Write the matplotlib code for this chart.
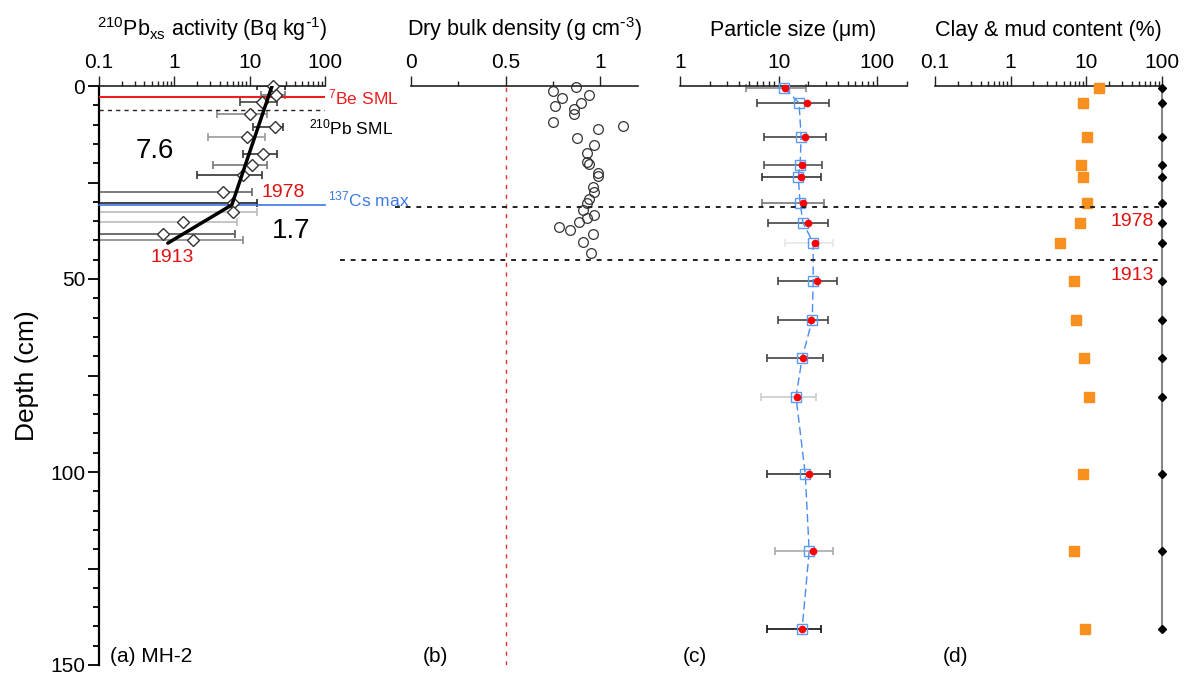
import matplotlib
matplotlib.use('Agg')
import matplotlib.pyplot as plt
import matplotlib.ticker as mticker
from matplotlib.lines import Line2D
from matplotlib.transforms import blended_transform_factory

plt.rcParams['font.family'] = ['Liberation Sans', 'DejaVu Sans']
plt.rcParams['mathtext.default'] = 'regular'

# ---------------- data ----------------
# (a) 210Pb excess activity (Bq/kg)
pb_depth = [0.0, 2.3, 4.1, 7.3, 10.5, 13.3, 17.6, 20.5, 23.0, 27.4, 30.4, 32.6, 35.2, 38.3, 40.0]
pb_activity = [20.5, 22.4, 14.6, 10.1, 21.7, 9.2, 15.1, 10.8, 8.2, 4.4, 6.0, 6.0, 1.3, 0.71, 1.77]
pb_err_low = [12.5, 14, 7.5, 3.7, 11.1, 2.8, 8.2, 3.3, 2.0, 0.05, 0.05, 0.05, 0.05, 0.05, 0.05]
pb_err_high = [29.5, 29.5, 23.1, 17.0, 27.8, 16.0, 23.1, 17.0, 14.6, 10.8, 12.5, 12.5, 6.8, 6.4, 8.2]
pb_err_color = ['#222222', '#777777', '#444444', '#888888', '#333333', '#999999', '#333333',
                '#777777', '#333333', '#666666', '#222222', '#bbbbbb', '#bbbbbb', '#555555', '#888888']
fit_depth = [0.0, 30.8, 40.7]
fit_activity = [19.8, 5.8, 0.82]
be_sml_depth = 2.8
pb_sml_depth = 6.2
cs_max_depth = 30.8
rate_labels = ['7.6', '1.7']
year_1978_depth = 31.3
year_1913_depth = 45.1

# (b) dry bulk density (g/cm3)
dbd_depth = [0.3, 1.3, 2.3, 3.1, 4.3, 5.3, 6.0, 7.3, 9.4, 10.3, 11.2, 13.5, 15.3, 17.4, 19.7,
             20.3, 22.5, 23.3, 26.1, 27.4, 29.3, 30.4, 32.0, 33.4, 34.3, 35.2, 36.5, 37.3, 38.3,
             40.4, 43.3]
dbd_value = [0.87, 0.75, 0.94, 0.80, 0.90, 0.76, 0.86, 0.86, 0.75, 1.12, 0.99, 0.88, 0.97, 0.93,
             0.93, 0.94, 0.99, 0.99, 0.96, 0.97, 0.94, 0.93, 0.91, 0.97, 0.93, 0.89, 0.78, 0.84,
             0.96, 0.91, 0.95]
dbd_reference = 0.5

# (c) particle size (um) and (d) clay & mud content (%)
grain_depth = [0.5, 4.4, 13.2, 20.5, 23.5, 30.4, 35.5, 40.6, 50.6, 60.6, 70.4, 80.6, 100.5, 120.5, 140.6]
size_mean = [11.4, 16.1, 16.9, 16.5, 15.8, 16.5, 17.7, 22.4, 22.4, 21.9, 17.3, 15.0, 18.6, 20.4, 17.3]
size_median = [11.6, 19.5, 18.5, 17.3, 16.9, 17.7, 19.9, 23.5, 24.6, 21.4, 17.7, 15.4, 20.4, 22.4, 17.3]
size_err_low = [4.7, 6.0, 7.1, 7.1, 6.8, 6.8, 7.8, 11.6, 9.9, 9.9, 7.6, 6.6, 7.6, 9.2, 7.6]
size_err_high = [19, 32.5, 30, 27.7, 27, 29, 31.8, 35.8, 39, 32, 28, 24, 33, 35.8, 27]
size_err_color = ['#888888', '#444444', '#444444', '#555555', '#333333', '#777777', '#444444',
                  '#e6e6e6', '#444444', '#444444', '#444444', '#cccccc', '#333333', '#aaaaaa', '#111111']
clay_pct = [14.9, 9.1, 10.3, 8.6, 9.1, 10.3, 8.3, 4.5, 6.9, 7.2, 9.4, 11.0, 8.9, 6.9, 9.7]
mud_pct = [100, 100, 100, 100, 100, 100, 100, 100, 100, 100, 100, 100, 100, 100, 100]

# ---------------- figure ----------------
W, H = 1192, 675
fig = plt.figure(figsize=(W / 100, H / 100), dpi=100)
y_top = 1 - 86 / H
y_bot = 1 - 665 / H


def add_panel(x0, x1, share=None):
    return fig.add_axes([x0 / W, y_bot, (x1 - x0) / W, y_top - y_bot], sharey=share)


def ftext(x, y, s, **kw):
    fig.text(x / W, 1 - y / H, s, **kw)


axa = add_panel(99, 325)
axb = add_panel(411, 638, axa)
axc = add_panel(680, 907, axa)
axd = add_panel(935, 1162, axa)

TICK_FS = 15
TITLE_FS = 15.5

for ax in (axa, axb, axc, axd):
    ax.set_facecolor('none')
    for s in ('bottom', 'right'):
        ax.spines[s].set_visible(False)
    ax.spines['top'].set_linewidth(1.2)
    ax.spines['top'].set_color('#222222')
    ax.xaxis.tick_top()
    ax.xaxis.set_label_position('top')
    ax.tick_params(axis='x', which='major', direction='out', length=7, width=1,
                   labelsize=TICK_FS, pad=3, color='#222222')
    ax.tick_params(axis='x', which='minor', direction='out', length=3.5, width=1, color='#222222')
    if ax is not axa:
        ax.spines['left'].set_visible(False)
        ax.tick_params(axis='y', which='both', left=False, labelleft=False)

axa.set_ylim(150, 0)
axa.yaxis.set_major_locator(mticker.MultipleLocator(25))
axa.yaxis.set_major_formatter(mticker.FuncFormatter(lambda v, p: f'{v:g}' if v % 50 == 0 else ''))
axa.yaxis.set_minor_locator(mticker.MultipleLocator(5))
axa.tick_params(axis='y', which='major', direction='out', length=8, width=1.3, labelsize=TICK_FS, pad=2)
axa.tick_params(axis='y', which='minor', direction='out', length=4, width=1.3)
axa.spines['left'].set_linewidth(1.6)
axa.set_ylabel('Depth (cm)', fontsize=19, labelpad=8)


def log_axis(ax, lo, hi, majors, labels):
    ax.set_xscale('log')
    ax.set_xlim(lo, hi)
    ax.xaxis.set_major_locator(mticker.FixedLocator(majors))
    ax.xaxis.set_major_formatter(mticker.FixedFormatter(labels))
    ax.xaxis.set_minor_locator(mticker.LogLocator(base=10, subs=range(2, 10), numticks=20))
    ax.xaxis.set_minor_formatter(mticker.NullFormatter())


# ---- panel (a)
log_axis(axa, 0.1, 100, [0.1, 1, 10, 100], ['0.1', '1', '10', '100'])
axa.set_xlabel(r'$^{210}$Pb$_{xs}$ activity (Bq kg$^{\text{-}1}$)', fontsize=TITLE_FS, labelpad=12)
for d, v, lo, hi, c in zip(pb_depth, pb_activity, pb_err_low, pb_err_high, pb_err_color):
    axa.errorbar([v], [d], xerr=[[v - lo], [hi - v]], fmt='none', ecolor=c, elinewidth=1.2,
                 capsize=3, capthick=1.2, zorder=2)
axa.axhline(be_sml_depth, color='#ee1c1c', lw=1.5, zorder=3)
axa.axhline(pb_sml_depth, color='#222222', lw=1, ls=(0, (3, 3)), zorder=3)
axa.plot([0.1, 100], [cs_max_depth, cs_max_depth], color='#3b78e7', lw=1.2, zorder=3, clip_on=False)
axa.plot(pb_activity, pb_depth, ls='none', marker='D', ms=6.5, mfc='white', mec='#333333',
         mew=1, zorder=4, clip_on=False)
axa.plot(fit_activity, fit_depth, color='black', lw=2.5, zorder=5, solid_capstyle='round')

ftext(155, 151, rate_labels[0], fontsize=20, ha='center', va='center')
ftext(291, 231, rate_labels[1], fontsize=20, ha='center', va='center')
ftext(172, 258, '1913', fontsize=14, color='#e01010', ha='center', va='center')
ftext(283, 192, '1978', fontsize=14, color='#e01010', ha='center', va='center')
ftext(328, 199, '$^{137}$Cs max', fontsize=12.5, color='#3b78e7', ha='left', va='center')
ftext(328, 97, '$^{7}$Be SML', fontsize=12.5, color='#ee1c1c', ha='left', va='center')
ftext(309, 127, '$^{210}$Pb SML', fontsize=12.5, color='black', ha='left', va='center')

# ---- panel (b)
axb.set_xlim(0, 1.2)
axb.xaxis.set_major_locator(mticker.FixedLocator([0, 0.5, 1]))
axb.xaxis.set_major_formatter(mticker.FixedFormatter(['0', '0.5', '1']))
axb.xaxis.set_minor_locator(mticker.FixedLocator([0.25, 0.75]))
axb.set_xlabel(r'Dry bulk density (g cm$^{\text{-}3}$)', fontsize=TITLE_FS, labelpad=12)
axb.axvline(dbd_reference, color='#e03030', lw=1, ls=(0, (3, 4)))
axb.plot(dbd_value, dbd_depth, ls='none', marker='o', ms=7, mfc='none', mec='#333333', mew=0.9,
         clip_on=False)

# ---- panel (c)
log_axis(axc, 1, 200, [1, 10, 100], ['1', '10', '100'])
axc.set_xlabel('Particle size (μm)', fontsize=TITLE_FS, labelpad=12)
for d, lo, hi, c, m in zip(grain_depth, size_err_low, size_err_high, size_err_color, size_median):
    axc.errorbar([m], [d], xerr=[[m - lo], [hi - m]], fmt='none', ecolor=c, elinewidth=1.2,
                 capsize=3, capthick=1.2, zorder=2, clip_on=False)
axc.plot(size_mean, grain_depth, color='#4a8af4', lw=1, ls=(0, (6, 3)), zorder=3)
axc.plot(size_mean, grain_depth, ls='none', marker='s', ms=7.5, mfc='none', mec='#5b9bf5',
         mew=1, zorder=4, clip_on=False)
axc.plot(size_median, grain_depth, ls='none', marker='o', ms=4.5, color='#ff0000', zorder=5,
         clip_on=False)

# ---- panel (d)
log_axis(axd, 0.1, 100, [0.1, 1, 10, 100], ['0.1', '1', '10', '100'])
axd.set_xlabel('Clay & mud content (%)', fontsize=TITLE_FS, labelpad=12)
axd.plot(mud_pct, grain_depth, color='#888888', lw=1.5, zorder=2, clip_on=False)
axd.plot(mud_pct, grain_depth, ls='none', marker='D', ms=4.5, color='black', zorder=3, clip_on=False)
axd.plot(clay_pct, grain_depth, ls='none', marker='s', ms=7.5, color='#f7901e', zorder=3,
         clip_on=False)
ftext(1132, 222, '1978', fontsize=14, color='#e01010', ha='center', va='center')
ftext(1132, 275, '1913', fontsize=14, color='#e01010', ha='center', va='center')

# ---- horizontal event lines spanning panels
bt = blended_transform_factory(fig.transFigure, axa.transData)
fig.add_artist(Line2D([395 / W, 1162 / W], [year_1978_depth, year_1978_depth], transform=bt,
                      color='#222222', lw=1.4, ls=(0, (2.5, 3))))
fig.add_artist(Line2D([340 / W, 1162 / W], [year_1913_depth, year_1913_depth], transform=bt,
                      color='#222222', lw=1.4, ls=(0, (2.5, 3))))

# ---- panel labels
ftext(110, 656, '(a) MH-2', fontsize=15, ha='left', va='center')
ftext(423, 656, '(b)', fontsize=15, ha='left', va='center')
ftext(683, 656, '(c)', fontsize=15, ha='left', va='center')
ftext(943, 656, '(d)', fontsize=15, ha='left', va='center')

fig.savefig('out.png', dpi=100)
